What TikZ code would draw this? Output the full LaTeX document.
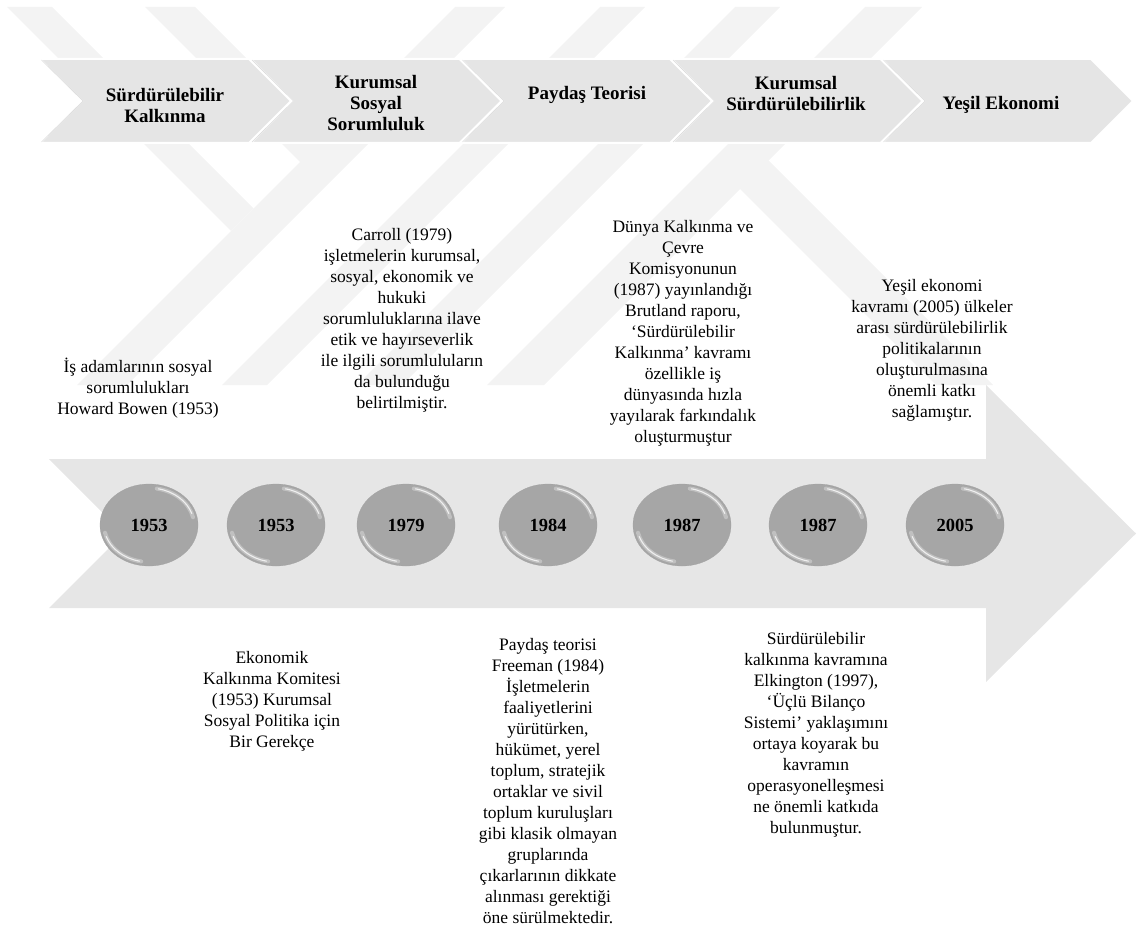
\documentclass[tikz,border=0pt]{standalone}
\usepackage{fontspec}
\setmainfont{Liberation Serif}
\usetikzlibrary{shapes.geometric}
\definecolor{wmc}{HTML}{F3F3F3}
\definecolor{chevc}{HTML}{E5E5E5}
\definecolor{arrc}{HTML}{E6E6E6}
\definecolor{ballc}{HTML}{A6A6A6}
\begin{document}
\begin{tikzpicture}[x=1pt,y=-1pt,
  wm/.style={fill=wmc,draw=none},
  chev/.style={fill=chevc,draw=white,line width=2pt,line join=miter},
  chevedge/.style={draw=black!14,line width=0.6pt},
  ttl/.style={font=\bfseries\fontsize{19}{21}\selectfont,align=center,inner sep=0pt},
  txt/.style={font=\fontsize{17.5}{21}\selectfont,align=center,inner sep=0pt},
  yr/.style={ellipse,fill=ballc,draw=black!36,line width=0.3pt,minimum width=98pt,minimum height=82pt,inner sep=0pt,font=\bfseries\fontsize{18.5}{20}\selectfont},
  hlsoft/.style={white,opacity=0.3,line width=4pt,line cap=round},
  hl/.style={white,opacity=0.75,line width=1.1pt,line cap=round}]
\useasboundingbox (0,0) rectangle (1137,928);
% watermark (faint stripes)
\fill[wm] (7,7) -- (52,7) -- (253.5,208.5) -- (231,231) -- cycle;
\fill[wm] (145,7) -- (195,7) -- (350,162) -- (300,162) -- cycle;
\fill[wm] (455,7) -- (505,7) -- (127,385) -- (77,385) -- cycle;
\fill[wm] (600,7) -- (645,7) -- (267,385) -- (222,385) -- cycle;
\fill[wm] (735,7) -- (780,7) -- (402,385) -- (357,385) -- cycle;
\fill[wm] (865,7) -- (922,7) -- (544,385) -- (487,385) -- cycle;
\fill[wm] (736.5,185.5) -- (765,157) -- (993,385) -- (936,385) -- cycle;
% chevrons
\foreach \k in {0,...,4}{
  \pgfmathsetmacro{\L}{40+210.5*\k}
  \draw[chev] (\L,59) -- ++(209,0) -- ++(42,42) -- ++(-42,42) -- ++(-209,0) -- ++(42,-42) -- cycle;
  \draw[chevedge] (\L+1.5,60) -- ++(41.5,41) -- ++(-41.5,41);
}
\node[ttl] (c1) at (165,105.5) {Sürdürülebilir\\Kalkınma};
\node[ttl] (c2) at (376,103.5) {Kurumsal\\Sosyal\\Sorumluluk};
\node[ttl] (c3) at (587,94.5) {Paydaş Teorisi};
\node[ttl] (c4) at (796,94) {Kurumsal\\Sürdürülebilirlik};
\node[ttl] (c5) at (1001,104.5) {Yeşil Ekonomi};
% texts above
\node[txt] (t1) at (138,388) {İş adamlarının sosyal\\sorumlulukları\\Howard Bowen (1953)};
\node[txt] (t2) at (402,320.5) {Carroll (1979)\\işletmelerin kurumsal,\\sosyal, ekonomik ve\\hukuki\\sorumluluklarına ilave\\etik ve hayırseverlik\\ile ilgili sorumluluların\\da bulunduğu\\belirtilmiştir.};
\node[txt] (t3) at (683,333.5) {Dünya Kalkınma ve\\Çevre\\Komisyonunun\\(1987) yayınlandığı\\Brutland raporu,\\‘Sürdürülebilir\\Kalkınma’ kavramı\\özellikle iş\\dünyasında hızla\\yayılarak farkındalık\\oluşturmuştur};
\node[txt] (t4) at (932,350) {Yeşil ekonomi\\kavramı (2005) ülkeler\\arası sürdürülebilirlik\\politikalarının\\oluşturulmasına\\önemli katkı\\sağlamıştır.};
% big arrow
\fill[arrc] (49,459) -- (986,459) -- (986,385) -- (1136,533.5) -- (986,682) -- (986,608) -- (49,608) -- (123.5,533.5) -- cycle;
% year balls
\foreach \i/\x/\yy in {1/149/1953,2/276/1953,3/406/1979,4/548/1984,5/682/1987,6/818/1987,7/955/2005}{
  \node[yr] (e\i) at (\x,525) {\yy};
  \draw[hlsoft] (e\i.center) ++(-80:45 and 37) arc[start angle=-80,end angle=-12,x radius=45,y radius=37];
  \draw[hl] (e\i.center) ++(-78:45 and 37) arc[start angle=-78,end angle=-18,x radius=45,y radius=37];
  \draw[hlsoft] (e\i.center) ++(100:45 and 37) arc[start angle=100,end angle=168,x radius=45,y radius=37];
  \draw[hl] (e\i.center) ++(102:45 and 37) arc[start angle=102,end angle=162,x radius=45,y radius=37];
}
% texts below
\node[txt] (b1) at (272,701.5) {Ekonomik\\Kalkınma Komitesi\\(1953) Kurumsal\\Sosyal Politika için\\Bir Gerekçe};
\node[txt] (b2) at (548,781) {Paydaş teorisi\\Freeman (1984)\\İşletmelerin\\faaliyetlerini\\yürütürken,\\hükümet, yerel\\toplum, stratejik\\ortaklar ve sivil\\toplum kuruluşları\\gibi klasik olmayan\\gruplarında\\çıkarlarının dikkate\\alınması gerektiği\\öne sürülmektedir.};
\node[txt] (b3) at (816,734.5) {Sürdürülebilir\\kalkınma kavramına\\Elkington (1997),\\‘Üçlü Bilanço\\Sistemi’ yaklaşımını\\ortaya koyarak bu\\kavramın\\operasyonelleşmesi\\ne önemli katkıda\\bulunmuştur.};
\end{tikzpicture}
\end{document}
